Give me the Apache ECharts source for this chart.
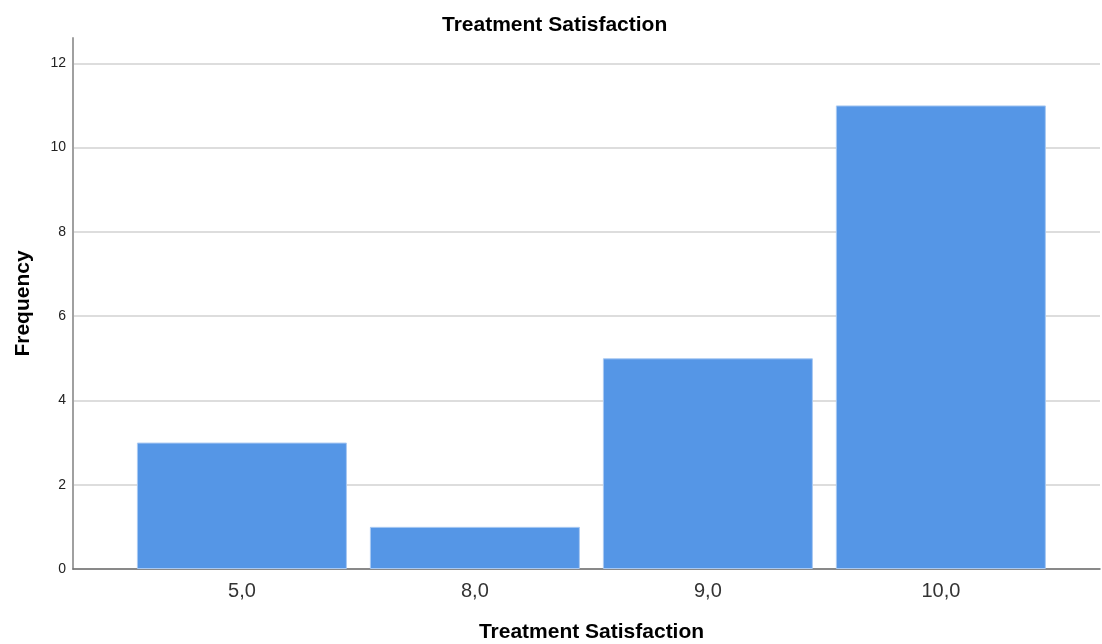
<!DOCTYPE html>
<html>
<head>
<meta charset="utf-8">
<script src="https://cdn.jsdelivr.net/npm/echarts@6/dist/echarts.min.js"></script>
<style>html,body{margin:0;padding:0;background:#fff;}#c{width:1102px;height:644px;}</style>
</head>
<body>
<div id="c"></div>
<script>
const categories = ['5,0', '8,0', '9,0', '10,0'];
const frequencies = [3, 1, 5, 11];
const yTicks = [0, 2, 4, 6, 8, 10, 12];

const chart = echarts.init(document.getElementById('c'), null, {renderer: 'canvas'});
const seriesData = frequencies.map((v, i) => [i, v]);
chart.setOption({
  animation: false,
  backgroundColor: '#ffffff',
  title: {
    text: 'Treatment Satisfaction',
    left: 437,
    top: 10,
    textStyle: {fontFamily: 'Liberation Sans', fontSize: 21, fontWeight: 'bold', color: '#000'}
  },
  grid: {left: 73, right: 2, top: 38, bottom: 75, containLabel: false, outerBoundsMode: 'none'},
  xAxis: {
    type: 'value',
    min: -0.725,
    max: 3.683,
    name: 'Treatment Satisfaction',
    nameLocation: 'middle',
    nameGap: 53,
    nameTextStyle: {fontFamily: 'Liberation Sans', fontSize: 21, fontWeight: 'bold', color: '#000', padding: [0, 0, 0, 10]},
    axisLine: {show: true, onZero: false, lineStyle: {color: '#6e6e6e', width: 1.5}},
    axisTick: {show: false},
    splitLine: {show: false},
    axisLabel: {
      customValues: [0, 1, 2, 3],
      formatter: (v) => categories[Math.round(v)],
      fontFamily: 'Liberation Sans', fontSize: 20, color: '#333', margin: 12
    }
  },
  yAxis: {
    type: 'value',
    min: 0,
    max: 12.6,
    interval: 2,
    name: 'Frequency',
    nameLocation: 'middle',
    nameGap: 39,
    nameTextStyle: {fontFamily: 'Liberation Sans', fontSize: 21, fontWeight: 'bold', color: '#000'},
    axisLine: {show: true, onZero: false, lineStyle: {color: '#a0a0a0', width: 2}},
    axisTick: {show: false},
    axisLabel: {
      showMaxLabel: false,
      formatter: (v) => yTicks.includes(v) ? String(v) : '',
      fontFamily: 'Liberation Sans', fontSize: 14, color: '#222', margin: 7
    },
    splitLine: {show: true, showMaxLine: false, lineStyle: {color: '#d2d2d2', width: 1.5}}
  },
  series: [{
    type: 'bar',
    data: seriesData,
    barWidth: 210,
    itemStyle: {color: '#5596e6', borderColor: '#a9c9f2', borderWidth: 1}
  }]
});
</script>
</body>
</html>
